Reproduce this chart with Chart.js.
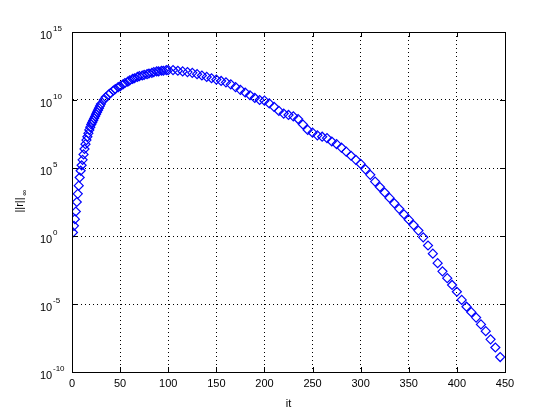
<!DOCTYPE html>
<html>
<head>
<meta charset="utf-8">
<script src="https://cdn.jsdelivr.net/npm/chart.js@4/dist/chart.umd.min.js"></script>
<style>
  body { margin: 0; background: #fff; }
  canvas { display: block; }
</style>
</head>
<body>
<canvas id="c" width="560" height="420"></canvas>
<script>
// iterations and log10 of ||r||_inf
const iters = [1, 2, 3, 4, 5, 6, 7, 8, 9, 10, 11, 12, 13, 14, 15, 16, 17, 18, 19, 20, 21, 22, 23, 24, 25, 26, 27, 28, 29, 30,
  33, 35, 38, 40, 43, 45, 48, 50, 53, 55, 58, 60, 63, 65, 68, 70, 73, 75, 78, 80, 83, 85, 88, 90, 93, 95, 98, 100,
  105, 110, 115, 120, 125, 130, 135, 140, 145, 150, 155, 160, 165, 170, 175, 180, 185, 190, 195, 200, 205, 210, 215, 220,
  225, 230, 235, 240, 245, 250, 255, 260, 265, 270, 275, 280, 285, 290, 295, 300, 305, 310, 315, 320, 325, 330, 335, 340,
  345, 350, 355, 360, 365, 370, 375, 380, 385, 390, 395, 400, 405, 410, 415, 420, 425, 430, 435, 440, 445];
const logNorm = [0.26, 0.75, 1.24, 1.8, 2.5, 3.1, 3.7, 4.3, 4.8, 5.2, 5.6, 6.0, 6.4, 6.75, 7.05, 7.3, 7.55, 7.8, 8.0, 8.2, 8.35, 8.5, 8.65, 8.8, 8.95, 9.1, 9.25, 9.4, 9.55, 9.7,
  10.0, 10.2, 10.4, 10.5, 10.7, 10.8, 10.95, 11.0, 11.15, 11.25, 11.35, 11.45, 11.55, 11.6, 11.7, 11.75, 11.8, 11.85, 11.9, 11.95, 12.0, 12.05, 12.1, 12.1, 12.15, 12.15, 12.2, 12.2,
  12.2, 12.15, 12.1, 12.05, 12.0, 11.9, 11.8, 11.7, 11.6, 11.5, 11.4, 11.3, 11.15, 10.95, 10.75, 10.55, 10.35, 10.15, 10.0, 9.95, 9.75, 9.5, 9.2, 9.0,
  8.9, 8.8, 8.6, 8.2, 7.8, 7.6, 7.4, 7.3, 7.2, 6.95, 6.75, 6.5, 6.2, 5.9, 5.6, 5.3, 4.9, 4.5, 4.0, 3.6, 3.2, 2.8, 2.4, 2.0,
  1.6, 1.2, 0.8, 0.4, -0.1, -0.7, -1.3, -2.0, -2.6, -3.1, -3.6, -4.1, -4.7, -5.2, -5.6, -6.0, -6.5, -7.0, -7.6, -8.2, -8.9];
const xTicks = [0, 50, 100, 150, 200, 250, 300, 350, 400, 450];
const yExponents = [-10, -5, 0, 5, 10, 15];

const points = iters.map((it, i) => ({ x: it, y: Math.pow(10, logNorm[i]) }));
const FONT = "Liberation Sans, Arial, sans-serif";

// box, inward ticks, y labels with exponents, axis titles
const matlabAxes = {
  id: "matlabAxes",
  afterDraw(chart) {
    const ctx = chart.ctx;
    const a = chart.chartArea;
    const xs = chart.scales.x, ys = chart.scales.y;
    ctx.save();
    ctx.strokeStyle = "#000";
    ctx.lineWidth = 1;
    ctx.strokeRect(a.left + 0.5, a.top + 0.5, a.right - a.left, a.bottom - a.top);
    ctx.beginPath();
    xTicks.forEach(t => {
      const px = Math.round(xs.getPixelForValue(t)) + 0.5;
      ctx.moveTo(px, a.bottom); ctx.lineTo(px, a.bottom - 5);
      ctx.moveTo(px, a.top); ctx.lineTo(px, a.top + 5);
    });
    yExponents.forEach(e => {
      const py = Math.round(ys.getPixelForValue(Math.pow(10, e))) + 0.5;
      ctx.moveTo(a.left, py); ctx.lineTo(a.left + 5, py);
      ctx.moveTo(a.right, py); ctx.lineTo(a.right - 5, py);
    });
    ctx.stroke();

    ctx.fillStyle = "#000";
    ctx.textBaseline = "middle";
    yExponents.forEach(e => {
      const py = ys.getPixelForValue(Math.pow(10, e));
      ctx.font = "11px " + FONT;
      ctx.textAlign = "left";
      ctx.fillText("10", 40, py + 4);
      ctx.font = "8px " + FONT;
      ctx.fillText(String(e), 53, py - 3);
    });

    ctx.font = "11px " + FONT;
    ctx.textAlign = "center";
    ctx.fillText("it", (a.left + a.right) / 2, 404);

    ctx.translate(20, (a.top + a.bottom) / 2);
    ctx.rotate(-Math.PI / 2);
    ctx.fillText("||r||", -3, 0);
    ctx.font = "8px " + FONT;
    ctx.fillText("\u221E", 9, 5);
    ctx.restore();
  }
};

new Chart(document.getElementById("c"), {
  type: "scatter",
  data: {
    datasets: [{
      data: points,
      pointStyle: "rectRot",
      radius: 4.5,
      borderColor: "#0000ff",
      backgroundColor: "rgba(0,0,0,0)",
      borderWidth: 1.2,
      showLine: false
    }]
  },
  options: {
    responsive: false,
    animation: false,
    layout: { padding: { top: 32, right: 55, left: 0, bottom: 0 } },
    plugins: { legend: { display: false }, tooltip: { enabled: false } },
    scales: {
      x: {
        type: "linear", min: 0, max: 450,
        afterBuildTicks: s => { s.ticks = xTicks.map(v => ({ value: v })); },
        afterFit: s => { s.height = 48; },
        grid: { color: "#000", drawTicks: false },
        border: { display: true, dash: [1, 3], color: "#000" },
        ticks: { color: "#000", font: { family: FONT, size: 11 }, padding: 5 }
      },
      y: {
        type: "logarithmic", min: 1e-10, max: 1e15,
        afterBuildTicks: s => { s.ticks = yExponents.map(e => ({ value: Math.pow(10, e) })); },
        afterFit: s => { s.width = 72; },
        grid: { color: "#000", drawTicks: false },
        border: { display: true, dash: [1, 3], color: "#000" },
        ticks: { display: false }
      }
    }
  },
  plugins: [matlabAxes]
});
</script>
</body>
</html>
